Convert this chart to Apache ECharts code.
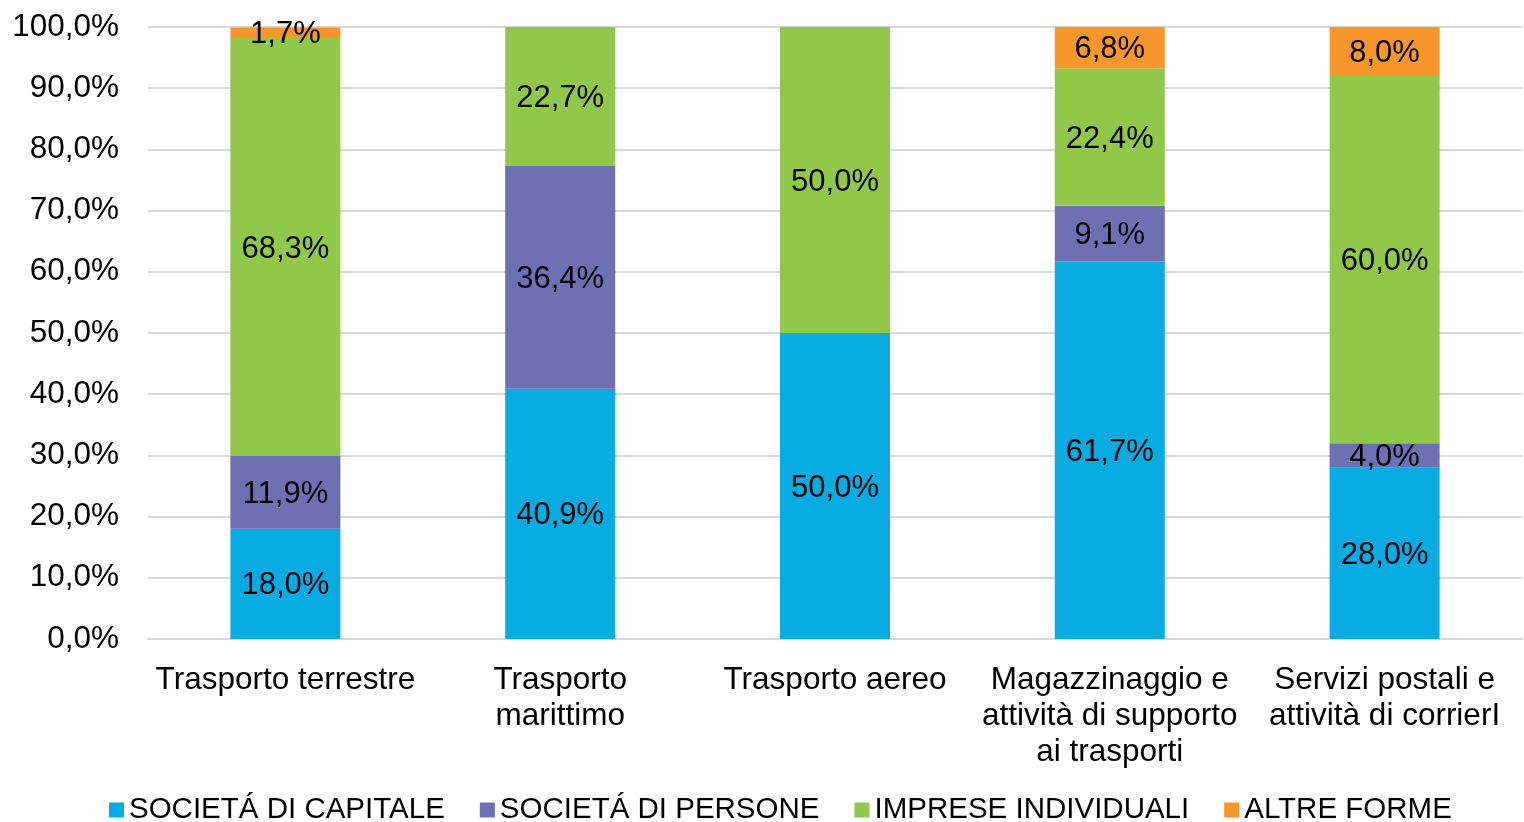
<!DOCTYPE html>
<html>
<head>
<meta charset="utf-8">
<script src="https://cdn.jsdelivr.net/npm/echarts@6/dist/echarts.min.js"></script>
<style>
  html, body { margin: 0; padding: 0; background: #fff; }
  #chart { width: 1524px; height: 822px; }
</style>
</head>
<body>
<div id="chart"></div>
<script>
var categories = [
  'Trasporto terrestre',
  'Trasporto\nmarittimo',
  'Trasporto aereo',
  'Magazzinaggio e\nattività di supporto\nai trasporti',
  'Servizi postali e\nattività di corrierI'
]
var seriesNames = ['SOCIETÁ DI CAPITALE', 'SOCIETÁ DI PERSONE', 'IMPRESE INDIVIDUALI', 'ALTRE FORME']
var capitale = [18.0, 40.9, 50.0, 61.7, 28.0]
var persone = [11.9, 36.4, 0, 9.1, 4.0]
var individuali = [68.3, 22.7, 50.0, 22.4, 60.0]
var altre = [1.7, 0, 0, 6.8, 8.0]
var colors = ['#08ACE2', '#6E70B4', '#92C84A', '#F7962A']

function pct (v) {
  return v.toFixed(1).replace('.', ',') + '%'
}

var allData = [capitale, persone, individuali, altre]
var series = allData.map(function (d, i) {
  return {
    name: seriesNames[i],
    type: 'bar',
    stack: 'tot',
    barWidth: 110,
    data: d,
    itemStyle: { color: colors[i] },
    label: {
      show: true,
      position: 'inside',
      offset: [0, 2],
      color: '#000',
      fontSize: 31,
      fontFamily: 'Liberation Sans',
      formatter: function (p) { return p.value > 0 ? pct(p.value) : '' }
    }
  }
})

var chart = echarts.init(document.getElementById('chart'))
chart.setOption({
  animation: false,
  color: colors,
  textStyle: { fontFamily: 'Liberation Sans' },
  grid: { left: 148, right: 2, top: 27, bottom: 183 },
  legend: {
    bottom: -8,
    left: 104,
    itemWidth: 15,
    itemHeight: 15,
    itemGap: 35,
    icon: 'rect',
    textStyle: { fontSize: 29.5, color: '#000', fontFamily: 'Liberation Sans' },
    data: seriesNames
  },
  xAxis: {
    type: 'category',
    data: categories,
    axisLine: { lineStyle: { color: '#d9d9d9', width: 2 } },
    axisTick: { show: false },
    axisLabel: {
      color: '#000',
      fontSize: 31.5,
      lineHeight: 36,
      margin: 23,
      interval: 0,
      fontFamily: 'Liberation Sans'
    }
  },
  yAxis: {
    type: 'value',
    min: 0,
    max: 100,
    interval: 10,
    axisLine: { show: false },
    axisTick: { show: false },
    splitLine: { lineStyle: { color: '#d9d9d9', width: 2 } },
    axisLabel: {
      color: '#000',
      fontSize: 31.5,
      margin: 29,
      fontFamily: 'Liberation Sans',
      formatter: function (v) { return pct(v) }
    }
  },
  series: series
})
</script>
</body>
</html>
